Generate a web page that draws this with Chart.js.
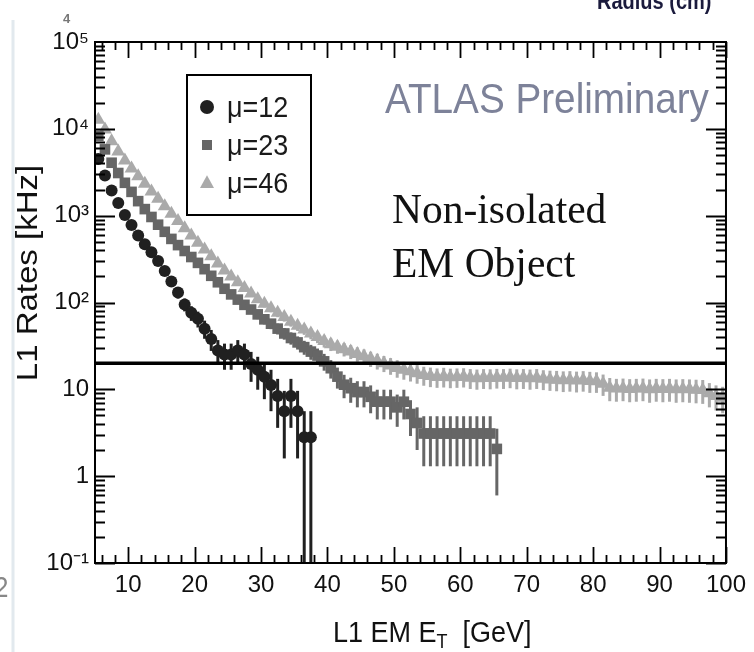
<!DOCTYPE html>
<html>
<head>
<meta charset="utf-8">
<script src="https://cdn.jsdelivr.net/npm/chart.js@4.4.1/dist/chart.umd.min.js"></script>
<style>
  html, body { margin: 0; padding: 0; background: #fff; }
  #wrap { width: 754px; height: 652px; position: relative; }
</style>
</head>
<body>
<div id="wrap"><canvas id="rateChart" width="754" height="652"></canvas></div>
<script>
// bin centres of L1 EM ET [GeV]
var etCenters = [
  5.5, 6.5, 7.5, 8.5, 9.5, 10.5, 11.5, 12.5, 13.5, 14.5,
  15.5, 16.5, 17.5, 18.5, 19.5, 20.5, 21.5, 22.5, 23.5, 24.5,
  25.5, 26.5, 27.5, 28.5, 29.5, 30.5, 31.5, 32.5, 33.5, 34.5,
  35.5, 36.5, 37.5, 38.5, 39.5, 40.5, 41.5, 42.5, 43.5, 44.5,
  45.5, 46.5, 47.5, 48.5, 49.5, 50.5, 51.5, 52.5, 53.5, 54.5,
  55.5, 56.5, 57.5, 58.5, 59.5, 60.5, 61.5, 62.5, 63.5, 64.5,
  65.5, 66.5, 67.5, 68.5, 69.5, 70.5, 71.5, 72.5, 73.5, 74.5,
  75.5, 76.5, 77.5, 78.5, 79.5, 80.5, 81.5, 82.5, 83.5, 84.5,
  85.5, 86.5, 87.5, 88.5, 89.5, 90.5, 91.5, 92.5, 93.5, 94.5,
  95.5, 96.5, 97.5, 98.5, 99.5
];

var seriesLabels = ['\u03bc=12', '\u03bc=23', '\u03bc=46'];

// rates [kHz] and their errors
var rate12 = [
  4500, 2900, 1950, 1400, 1020, 780, 590, 470, 380, 300,
  230, 175, 130, 95, 76, 65, 50, 38, 28, 25.2,
  25.2, 28, 25.2, 19.6, 16.8, 14, 11.2, 8.4, 5.6, 8.4,
  5.6, 2.8, 2.8
];
var err12 = [
  112, 90, 74, 63, 53, 47, 41, 36, 33, 29,
  25, 22, 19, 16, 14.6, 13.5, 11.8, 10.3, 8.9, 8.4,
  8.4, 8.9, 8.4, 7.4, 6.9, 6.3, 5.6, 4.8, 4.0, 4.8,
  4.0, 2.8, 2.8
];

var rate23 = [
  8300, 5800, 4070, 3100, 2390, 1880, 1470, 1190, 966, 787,
  652, 540, 458, 392, 334, 286, 242, 203, 171, 144,
  124, 108, 94, 83, 73, 64, 57, 50, 44, 39,
  34.7, 30.6, 27.2, 24.5, 21, 17.5, 14, 11.3, 10.3, 9.3,
  9.3, 8.2, 7.2, 7.2, 7.2, 6.2, 7.2, 5.2, 4.1, 3.1,
  3.1, 3.1, 3.1, 3.1, 3.1, 3.1, 3.1, 3.1, 3.1, 3.1,
  2.06
];
var err23 = [
  92, 77, 65, 57, 50, 44, 39, 35, 32, 28,
  26, 24, 22, 20, 18.5, 17.2, 15.8, 14.5, 13.3, 12.2,
  11.3, 10.5, 9.8, 9.2, 8.7, 8.1, 7.7, 7.2, 6.7, 6.3,
  6.0, 5.6, 5.3, 5.0, 4.6, 4.2, 3.8, 3.4, 3.3, 3.1,
  3.1, 2.9, 2.7, 2.7, 2.7, 2.5, 2.7, 2.3, 2.1, 1.8,
  1.8, 1.8, 1.8, 1.8, 1.8, 1.8, 1.8, 1.8, 1.8, 1.8,
  1.46
];

var rate46 = [
  12700, 9800, 7200, 5500, 4330, 3500, 2840, 2330, 1900, 1570,
  1280, 1050, 866, 716, 592, 489, 409, 341, 281, 233,
  199, 171, 147, 127, 109, 97, 86, 76, 68, 60,
  54, 49, 44, 40, 36, 33, 31, 29, 27.3, 25.6,
  24.1, 22.6, 21.3, 20, 18.8, 17.6, 16.8, 16.1, 15.3, 14.6,
  14.2, 13.9, 14.1, 13.8, 13.9, 14.0, 13.6, 13.4, 13.6, 13.5,
  13.7, 13.6, 13.8, 13.5, 13.6, 13.4, 13.6, 13.2, 13.0, 12.9,
  12.7, 12.8, 12.6, 12.8, 12.5, 12.4, 11.6, 10.4, 10.2, 10.3,
  10.1, 10.2, 10.3, 10.0, 10.2, 10.1, 10.2, 10.0, 10.1, 10.0,
  9.9, 9.8, 9.0, 8.4, 8.0
];
var err46 = [
  107, 94, 80, 70, 62, 56, 51, 46, 41, 38,
  34, 31, 28, 25, 23, 21, 19, 17.5, 15.9, 14.5,
  13.4, 12.4, 11.5, 10.7, 9.9, 9.3, 8.8, 8.3, 7.8, 7.3,
  7.0, 6.6, 6.3, 6.0, 5.7, 5.4, 5.3, 5.1, 5.0, 4.8,
  4.7, 4.5, 4.4, 4.2, 4.1, 4.0, 3.9, 3.8, 3.7, 3.6,
  3.6, 3.5, 3.6, 3.5, 3.5, 3.5, 3.5, 3.5, 3.5, 3.5,
  3.5, 3.5, 3.5, 3.5, 3.5, 3.5, 3.5, 3.4, 3.4, 3.4,
  3.4, 3.4, 3.4, 3.4, 3.4, 3.3, 3.2, 3.1, 3.0, 3.0,
  3.0, 3.0, 3.0, 3.0, 3.0, 3.0, 3.0, 3.0, 3.0, 3.0,
  3.0, 3.0, 2.8, 2.7, 2.7
];

var thresholdRate = 20;  // kHz

var xTickValues = [10, 20, 30, 40, 50, 60, 70, 80, 90, 100];
var yTickValues = [0.1, 1, 10, 100, 1000, 10000, 100000];
var yTickLabels = ['10\u207b\u00b9', '1', '10', '10\u00b2', '10\u00b3', '10\u2074', '10\u2075'];

var SANS = "'Liberation Sans', Arial, Helvetica, sans-serif";
var SERIF = "'Liberation Serif', 'Times New Roman', serif";

function points(values) {
    return values.map(function (v, i) { return {x: etCenters[i], y: v}; });
}

function stretchedText(ctx, str, x, y, font, color, sy) {
    ctx.save();
    ctx.translate(x, y);
    ctx.scale(1, sy);
    ctx.font = font;
    ctx.fillStyle = color;
    ctx.textAlign = 'left';
    ctx.textBaseline = 'alphabetic';
    ctx.fillText(str, 0, 0);
    ctx.restore();
}

function marker(ctx, style, x, y, size, color) {
    ctx.fillStyle = color;
    ctx.beginPath();
    if (style === 'circle') {
        ctx.arc(x, y, size, 0, Math.PI * 2);
    } else if (style === 'rect') {
        ctx.rect(x - size, y - size, size * 2, size * 2);
    } else {
        ctx.moveTo(x, y - size * 1.1);
        ctx.lineTo(x + size, y + size * 0.7);
        ctx.lineTo(x - size, y + size * 0.7);
        ctx.closePath();
    }
    ctx.fill();
}

// vertical error bars, drawn under the markers
var errorBars = {
    id: 'errorBars',
    beforeDatasetsDraw: function (chart) {
        var ctx = chart.ctx, xs = chart.scales.x, ys = chart.scales.y, a = chart.chartArea;
        ctx.save();
        ctx.beginPath();
        ctx.rect(a.left, a.top, a.right - a.left, a.bottom - a.top);
        ctx.clip();
        var sets = chart.data.datasets.slice().reverse();
        sets.forEach(function (ds) {
            if (!ds.errors) return;
            ctx.strokeStyle = ds.backgroundColor;
            ctx.lineWidth = 3;
            ds.data.forEach(function (p, i) {
                var e = ds.errors[i];
                var lo = Math.max(p.y - e, ys.min);
                var px = xs.getPixelForValue(p.x);
                ctx.beginPath();
                ctx.moveTo(px, ys.getPixelForValue(lo));
                ctx.lineTo(px, ys.getPixelForValue(p.y + e));
                ctx.stroke();
            });
        });
        ctx.restore();
    }
};

// ROOT-like frame with inward ticks, legend box and the texts
var frameAndTexts = {
    id: 'frameAndTexts',
    afterDraw: function (chart) {
        var ctx = chart.ctx, xs = chart.scales.x, ys = chart.scales.y, a = chart.chartArea;
        ctx.save();
        ctx.strokeStyle = '#000';
        ctx.lineWidth = 2;
        ctx.strokeRect(a.left, a.top, a.right - a.left, a.bottom - a.top);

        ctx.lineWidth = 1.8;
        ctx.beginPath();
        for (var v = 6; v <= 100; v += 2) {
            var px = Math.round(xs.getPixelForValue(v)) + 0.5;
            var len = (v % 10 === 0) ? 16 : 8;
            ctx.moveTo(px, a.bottom); ctx.lineTo(px, a.bottom - len);
            ctx.moveTo(px, a.top); ctx.lineTo(px, a.top + len);
        }
        for (var d = -1; d <= 4; d++) {
            for (var m = 1; m <= 9; m++) {
                var py = Math.round(ys.getPixelForValue(m * Math.pow(10, d))) + 0.5;
                var l = (m === 1) ? 20 : 10;
                ctx.moveTo(a.left, py); ctx.lineTo(a.left + l, py);
                ctx.moveTo(a.right, py); ctx.lineTo(a.right - l, py);
            }
        }
        ctx.stroke();

        // legend
        ctx.lineWidth = 2;
        ctx.strokeRect(187, 75, 124, 140);
        var styles = ['circle', 'rect', 'triangle'];
        var sizes = [7, 5, 7];
        var colors = ['#202020', '#666666', '#aaaaaa'];
        for (var k = 0; k < seriesLabels.length; k++) {
            marker(ctx, styles[k], 207, 107 + k * 38, sizes[k], colors[k]);
            stretchedText(ctx, seriesLabels[k], 227, 117 + k * 38, '27px ' + SANS, '#1a1a1a', 1.1);
        }

        stretchedText(ctx, 'ATLAS Preliminary', 385, 113, '38.7px ' + SANS, '#7d8299', 1.1);
        ctx.font = '41.5px ' + SERIF;
        ctx.fillStyle = '#111';
        ctx.fillText('Non-isolated', 392, 223);
        ctx.fillText('EM Object', 392, 277);

        // x title with subscript
        var f = '27px ' + SANS;
        ctx.font = f;
        var w1 = ctx.measureText('L1 EM E').width;
        stretchedText(ctx, 'L1 EM E', 333, 642, f, '#111', 1.1);
        ctx.font = '18px ' + SANS;
        var w2 = ctx.measureText('T').width;
        stretchedText(ctx, 'T', 333 + w1, 648, '18px ' + SANS, '#111', 1.1);
        stretchedText(ctx, '[GeV]', 333 + w1 + w2 + 15, 642, f, '#111', 1.1);

        // y title
        ctx.save();
        ctx.translate(37, 273);
        ctx.rotate(-Math.PI / 2);
        ctx.scale(1.1, 1);
        ctx.font = '30px ' + SANS;
        ctx.fillStyle = '#111';
        ctx.textAlign = 'center';
        ctx.fillText('L1 Rates [kHz]', 0, 0);
        ctx.restore();

        // slide leftovers around the plot
        stretchedText(ctx, 'Radius (cm)', 597, 9, 'bold 20px ' + SANS, '#1b1b3d', 1.15);
        stretchedText(ctx, '4', 63, 23, 'bold 13px ' + SANS, '#777', 1.0);
        stretchedText(ctx, '2', -6, 597, '26px ' + SANS, '#888', 1.1);
        ctx.strokeStyle = '#e2e9ee';
        ctx.lineWidth = 3;
        ctx.beginPath();
        ctx.moveTo(13, 20); ctx.lineTo(13, 652);
        ctx.stroke();
        ctx.restore();
    }
};

var ctx = document.getElementById('rateChart');
var rateChart = new Chart(ctx, {
    type: 'scatter',
    data: {
        datasets: [{
            label: 'threshold',
            type: 'line',
            data: [{x: 5, y: thresholdRate}, {x: 100, y: thresholdRate}],
            borderColor: '#000',
            borderWidth: 3.5,
            pointRadius: 0,
            showLine: true,
            fill: false
        }, {
            label: seriesLabels[0],
            data: points(rate12),
            errors: err12,
            pointStyle: 'circle',
            pointRadius: 6,
            backgroundColor: '#202020',
            borderColor: '#202020',
            borderWidth: 0
        }, {
            label: seriesLabels[1],
            data: points(rate23),
            errors: err23,
            pointStyle: 'rect',
            pointRadius: 7.5,
            backgroundColor: '#666666',
            borderColor: '#666666',
            borderWidth: 0
        }, {
            label: seriesLabels[2],
            data: points(rate46),
            errors: err46,
            pointStyle: 'triangle',
            pointRadius: 8,
            backgroundColor: '#aaaaaa',
            borderColor: '#aaaaaa',
            borderWidth: 0
        }]
    },
    options: {
        responsive: false,
        devicePixelRatio: 1,
        animation: false,
        layout: {padding: {left: 0, top: 42, right: 22, bottom: 0}},
        plugins: {legend: {display: false}, tooltip: {enabled: false}, title: {display: false}},
        scales: {
            x: {
                type: 'linear', min: 5, max: 100,
                grid: {display: false, drawTicks: false},
                border: {display: false},
                afterBuildTicks: function (s) { s.ticks = xTickValues.map(function (v) { return {value: v}; }); },
                afterFit: function (s) { s.height = 89; },
                ticks: {
                    padding: 8, color: '#111', autoSkip: false, maxRotation: 0,
                    font: {family: SANS, size: 24},
                    callback: function (v) { return String(v); }
                }
            },
            y: {
                type: 'logarithmic', min: 0.1, max: 100000,
                grid: {display: false, drawTicks: false},
                border: {display: false},
                afterBuildTicks: function (s) { s.ticks = yTickValues.map(function (v) { return {value: v}; }); },
                afterFit: function (s) { s.width = 95; },
                ticks: {
                    padding: 6, color: '#111', autoSkip: false,
                    font: {family: SANS, size: 24},
                    callback: function (v) {
                        var i = yTickValues.indexOf(v);
                        return i < 0 ? '' : yTickLabels[i];
                    }
                }
            }
        }
    },
    plugins: [errorBars, frameAndTexts]
});
</script>
</body>
</html>
